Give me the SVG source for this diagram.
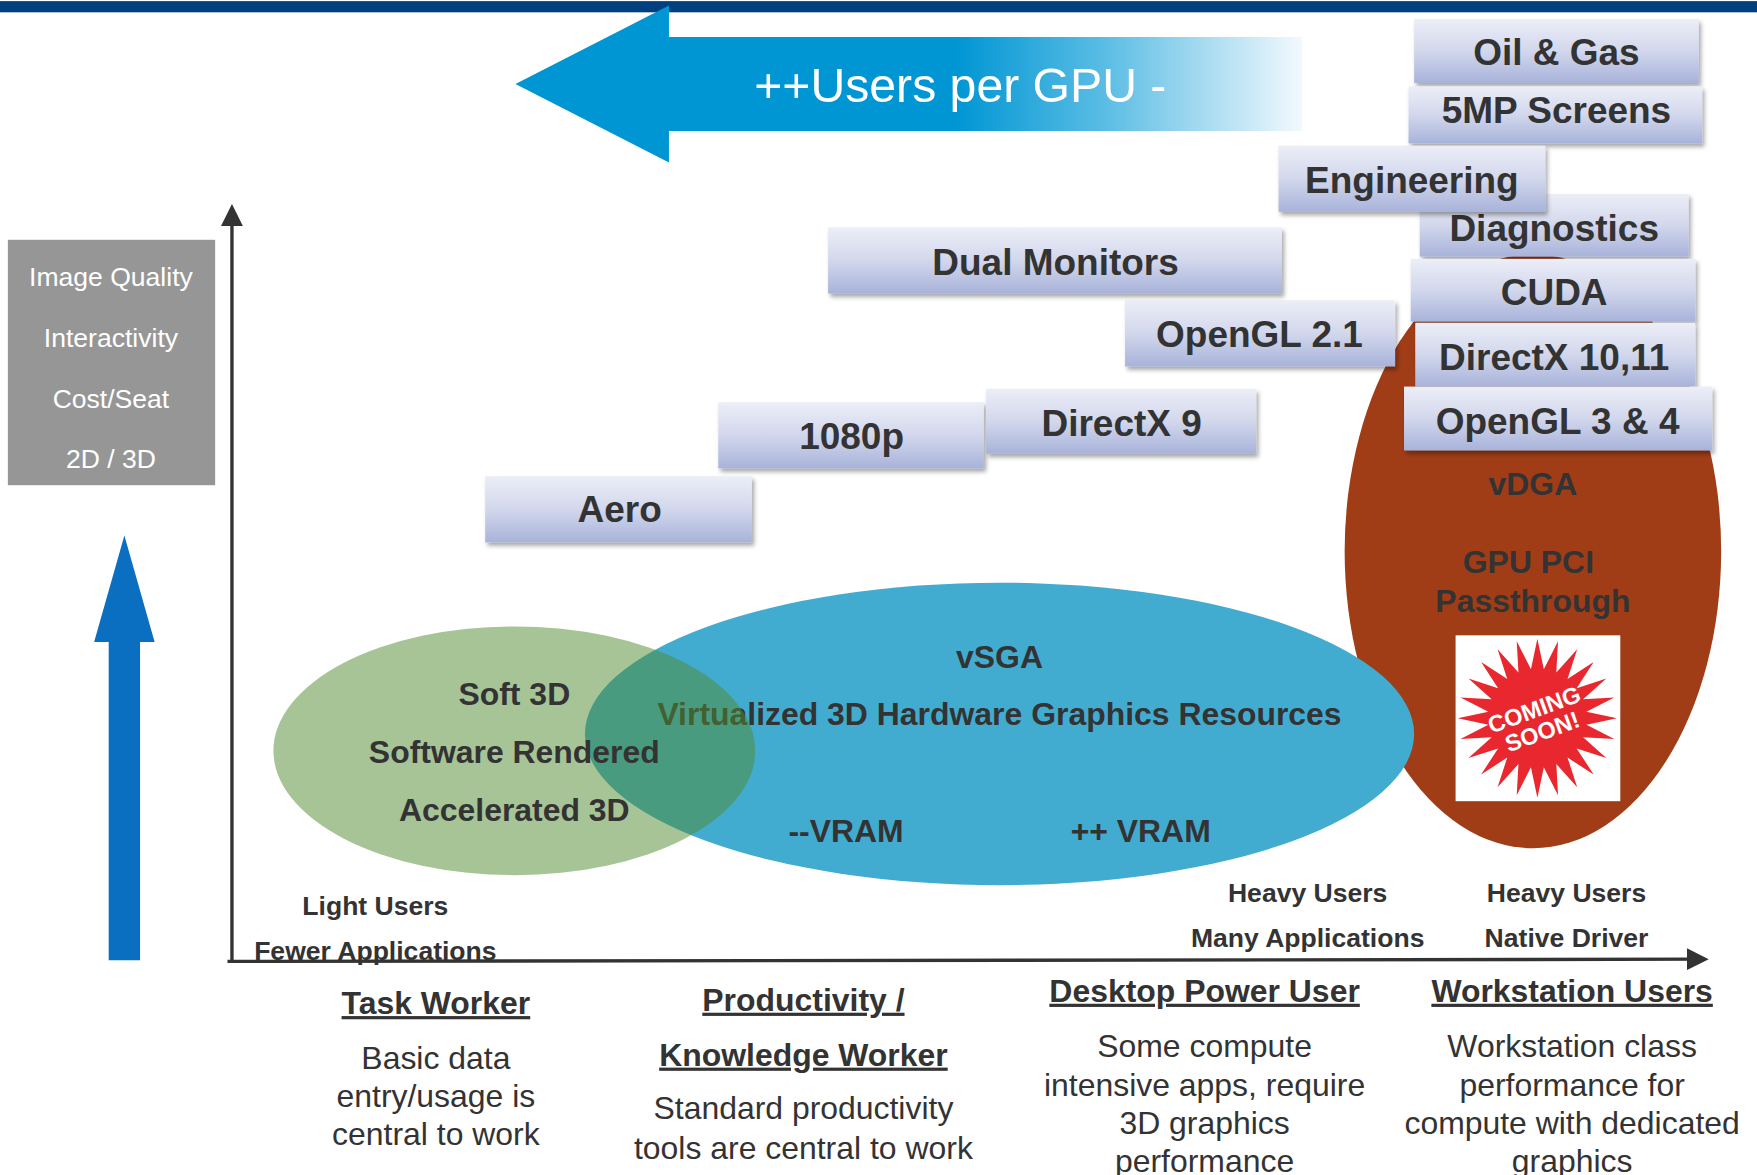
<svg xmlns="http://www.w3.org/2000/svg" width="1757" height="1175" viewBox="0 0 1757 1175">
<style>
.lbl{font-family:"Liberation Sans",Arial,sans-serif;font-weight:bold;font-size:33px;fill:#333;text-anchor:middle}
.in{font-family:"Liberation Sans",Arial,sans-serif;font-weight:bold;font-size:28.5px;fill:#333;text-anchor:middle}
.sm{font-family:"Liberation Sans",Arial,sans-serif;font-weight:bold;font-size:23.7px;fill:#333;text-anchor:middle}
.hd{font-family:"Liberation Sans",Arial,sans-serif;font-weight:bold;font-size:28.5px;fill:#333;text-anchor:middle;text-decoration:underline}
.bd{font-family:"Liberation Sans",Arial,sans-serif;font-size:28.5px;fill:#333;text-anchor:middle}
.gq{font-family:"Liberation Sans",Arial,sans-serif;font-size:23.7px;fill:#fff;text-anchor:middle}
.box{fill:url(#boxg);filter:url(#sh)}
.ax{stroke:#333;stroke-width:3;fill:none}
</style>
<defs>
<linearGradient id="boxg" x1="0" y1="0" x2="0" y2="1">
<stop offset="0" stop-color="#eceef7"/>
<stop offset="0.5" stop-color="#d2d7ec"/>
<stop offset="1" stop-color="#a8b3da"/>
</linearGradient>
<linearGradient id="arrg" gradientUnits="userSpaceOnUse" x1="460" y1="0" x2="1162" y2="0">
<stop offset="0" stop-color="#0096d4"/>
<stop offset="0.56" stop-color="#0096d4"/>
<stop offset="0.75" stop-color="#5bbde4"/>
<stop offset="1" stop-color="#f2f9fd"/>
</linearGradient>
<filter id="sh" x="-5%" y="-10%" width="112%" height="130%">
<feDropShadow dx="2" dy="3" stdDeviation="2" flood-color="#000" flood-opacity="0.35"/>
</filter>
<marker id="ah" viewBox="0 0 10 10" refX="8" refY="5" markerWidth="6.5" markerHeight="6.5" orient="auto">
<path d="M0,0 L10,5 L0,10 z" fill="#333"/>
</marker>
</defs>
<rect width="1757" height="1175" fill="#fff"/>
<g transform="scale(1.12054)">
<rect id="topbar" x="0" y="1" width="1568" height="10" fill="#00407e"/>

<g id="users-arrow">
<polygon points="460,75 597,5 597,33 1162,33 1162,117 597,117 597,145" fill="url(#arrg)"/>
<text x="857" y="91" font-family="Liberation Sans, Arial, sans-serif" font-size="43" fill="#fff" text-anchor="middle">++Users per GPU -</text>
</g>

<g id="quality-box">
<rect x="7" y="214" width="185" height="219" fill="#969696"/>
<text class="gq" x="99" y="255">Image Quality</text>
<text class="gq" x="99" y="310">Interactivity</text>
<text class="gq" x="99" y="364">Cost/Seat</text>
<text class="gq" x="99" y="418">2D / 3D</text>
</g>

<g id="quality-arrow">
<polygon points="111,478 138,573 125,573 125,857 97,857 97,573 84,573" fill="#0a6fc0"/>
</g>

<g id="vdga">
<ellipse cx="1368" cy="492" rx="168" ry="265" fill="#a03d17"/>
<text class="in" x="1368" y="442">vDGA</text>
<text class="in" x="1364" y="511" font-size="29.7">GPU PCI</text>
<text class="in" x="1368" y="546" font-size="29.7">Passthrough</text>
<rect x="1299" y="567" width="147" height="148" fill="#fff"/>
<polygon transform="translate(1372,641) scale(0.96)" fill="#e8282e" points="74,0 45.6,6 71.5,19.2 42.5,17.6 64.1,37 36.5,28 52.3,52.3 28,36.5 37,64.1 17.6,42.5 19.2,71.5 6,45.6 0,74 -6,45.6 -19.2,71.5 -17.6,42.5 -37,64.1 -28,36.5 -52.3,52.3 -36.5,28 -64.1,37 -42.5,17.6 -71.5,19.2 -45.6,6 -74,0 -45.6,-6 -71.5,-19.2 -42.5,-17.6 -64.1,-37 -36.5,-28 -52.3,-52.3 -28,-36.5 -37,-64.1 -17.6,-42.5 -19.2,-71.5 -6,-45.6 0,-74 6,-45.6 19.2,-71.5 17.6,-42.5 37,-64.1 28,-36.5 52.3,-52.3 36.5,-28 64.1,-37 42.5,-17.6 71.5,-19.2 45.6,-6"/>
<g transform="translate(1372,641) rotate(-20)" font-family="Liberation Sans, Arial, sans-serif" font-weight="bold" fill="#fff" text-anchor="middle">
<text x="0" y="-1" font-size="21">COMING</text>
<text x="0" y="20" font-size="21">SOON!</text>
</g>
</g>

<g id="vsga">
<ellipse cx="892" cy="655" rx="370" ry="135" fill="#42acd0"/>
<text class="in" x="892" y="596">vSGA</text>
<text class="in" x="892" y="647">Virtualized 3D Hardware Graphics Resources</text>
<text class="in" x="755" y="751">--VRAM</text>
<text class="in" x="1018" y="751">++ VRAM</text>
</g>

<g id="soft3d">
<ellipse cx="459" cy="670" rx="215" ry="111" fill="#518c32" fill-opacity="0.51"/>
<text class="in" x="459" y="629">Soft 3D</text>
<text class="in" x="459" y="681">Software Rendered</text>
<text class="in" x="459" y="733">Accelerated 3D</text>
</g>

<g id="connectors">
<line class="ax" x1="207" y1="858" x2="207" y2="186" marker-end="url(#ah)"/>
<line class="ax" x1="203" y1="858" x2="1521" y2="856" marker-end="url(#ah)"/>
</g>

<g id="aero"><rect class="box" x="433" y="425" width="238" height="59"/><text class="lbl" x="553" y="466">Aero</text></g>
<g id="p1080"><rect class="box" x="641" y="359" width="237" height="59"/><text class="lbl" x="760" y="401">1080p</text></g>
<g id="directx9"><rect class="box" x="880" y="347" width="241" height="58"/><text class="lbl" x="1001" y="389">DirectX 9</text></g>
<g id="opengl21"><rect class="box" x="1004" y="268" width="241" height="59"/><text class="lbl" x="1124" y="310">OpenGL 2.1</text></g>
<g id="dualmon"><rect class="box" x="739" y="203" width="405" height="59"/><text class="lbl" x="942" y="245">Dual Monitors</text></g>
<g id="oilgas"><rect class="box" x="1262" y="17" width="254" height="57"/><text class="lbl" x="1389" y="58">Oil &amp; Gas</text></g>
<g id="screens"><rect class="box" x="1257" y="77" width="262" height="51"/><text class="lbl" x="1389" y="110">5MP Screens</text></g>
<g id="diagnostics"><rect class="box" x="1267" y="173" width="240" height="56"/><text class="lbl" x="1387" y="215">Diagnostics</text></g>
<g id="engineering"><rect class="box" x="1141" y="130" width="238" height="59"/><text class="lbl" x="1260" y="172">Engineering</text></g>
<g id="cuda"><rect class="box" x="1259" y="231" width="254" height="56"/><text class="lbl" x="1387" y="272">CUDA</text></g>
<g id="directx1011"><rect class="box" x="1263" y="288" width="250" height="57"/><text class="lbl" x="1387" y="330">DirectX 10,11</text></g>
<g id="opengl34"><rect class="box" x="1253" y="345" width="275" height="57"/><text class="lbl" x="1390" y="387">OpenGL 3 &amp; 4</text></g>

<g id="light-users">
<text class="sm" x="335" y="817">Light Users</text>
<text class="sm" x="335" y="857">Fewer Applications</text>
</g>
<g id="heavy-users-many">
<text class="sm" x="1167" y="805">Heavy Users</text>
<text class="sm" x="1167" y="845">Many Applications</text>
</g>
<g id="heavy-users-native">
<text class="sm" x="1398" y="805">Heavy Users</text>
<text class="sm" x="1398" y="845">Native Driver</text>
</g>

<g id="task-worker">
<text class="hd" x="389" y="905">Task Worker</text>
<text class="bd" x="389" y="954">Basic data</text>
<text class="bd" x="389" y="988">entry/usage is</text>
<text class="bd" x="389" y="1022">central to work</text>
</g>
<g id="knowledge-worker">
<text class="hd" x="717" y="902">Productivity /</text>
<text class="hd" x="717" y="951">Knowledge Worker</text>
<text class="bd" x="717" y="999">Standard productivity</text>
<text class="bd" x="717" y="1034">tools are central to work</text>
</g>
<g id="power-user">
<text class="hd" x="1075" y="894">Desktop Power User</text>
<text class="bd" x="1075" y="943">Some compute</text>
<text class="bd" x="1075" y="978">intensive apps, require</text>
<text class="bd" x="1075" y="1012">3D graphics</text>
<text class="bd" x="1075" y="1046">performance</text>
</g>
<g id="workstation-users">
<text class="hd" x="1403" y="894">Workstation Users</text>
<text class="bd" x="1403" y="943">Workstation class</text>
<text class="bd" x="1403" y="978">performance for</text>
<text class="bd" x="1403" y="1012">compute with dedicated</text>
<text class="bd" x="1403" y="1046">graphics</text>
</g>
</g>
</svg>
